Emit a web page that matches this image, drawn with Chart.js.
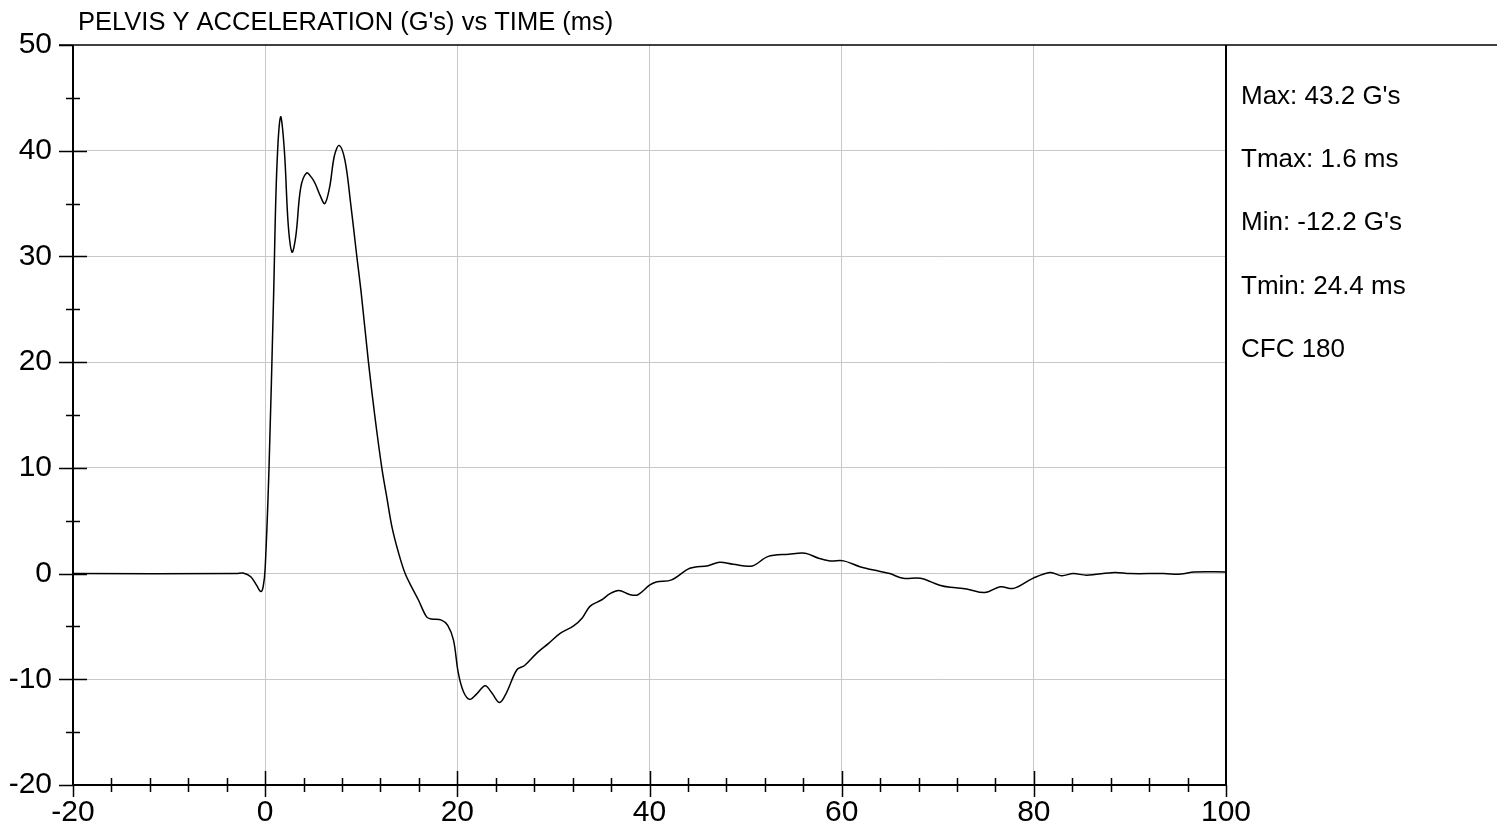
<!DOCTYPE html>
<html>
<head>
<meta charset="utf-8">
<script src="https://cdn.jsdelivr.net/npm/chart.js@4"></script>
<style>
  body { margin: 0; background: #fff; }
  #wrap { width: 1497px; height: 833px; }
</style>
</head>
<body>
<div id="wrap"><canvas id="PelvisY" width="1497" height="833"></canvas></div>
<script>
// time (ms) and pelvis Y acceleration (G's)
const timeMs = [-20, -3, -2.3, -1.5, -0.9, -0.45, -0.2, 0, 0.4, 0.87, 1.2, 1.6, 2.0, 2.4, 2.8, 3.2, 3.7, 4.3, 4.8, 5.2, 5.7, 6.2, 6.7, 7.2, 7.7, 8.3, 8.9, 9.5, 10.0, 10.75, 11.4, 12.14, 12.7, 13.2, 13.9, 14.57, 15.4, 15.95, 16.8, 17.3, 18.35, 19.0, 19.6, 20.1, 20.65, 21.3, 22.0, 22.9, 23.6, 24.4, 25.1, 26.2, 27.0, 28.3, 29.5, 30.7, 32.1, 33.0, 33.8, 35.0, 35.9, 36.8, 38.0, 38.8, 40.0, 40.7, 42.3, 44.2, 46.1, 47.3, 48.7, 50.7, 52.3, 54.5, 56.2, 57.6, 58.8, 60.2, 61.9, 64.0, 65.0, 66.4, 68.2, 70.2, 71.3, 73.0, 74.9, 76.5, 77.9, 79.9, 81.7, 82.9, 84.1, 85.5, 88.4, 90, 93.5, 95.3, 96.7, 100];
const accelG = [0, 0, 0.05, -0.3, -1.1, -1.7, -1.2, 0.5, 10, 26, 38, 43.2, 40, 33, 30.4, 32, 36.5, 37.9, 37.5, 36.9, 35.8, 35.0, 36.5, 39.5, 40.5, 39.1, 35, 30.3, 26.5, 20, 15, 10, 7, 4.4, 1.9, 0, -1.55, -2.5, -4.1, -4.3, -4.4, -4.9, -6.3, -9.4, -11.2, -11.9, -11.4, -10.6, -11.3, -12.2, -11.3, -9.1, -8.7, -7.5, -6.6, -5.65, -4.95, -4.2, -3.1, -2.5, -1.9, -1.6, -2.0, -2.0, -1.1, -0.8, -0.6, 0.5, 0.75, 1.07, 0.88, 0.72, 1.6, 1.83, 1.92, 1.45, 1.2, 1.2, 0.65, 0.2, 0, -0.45, -0.45, -1.1, -1.3, -1.45, -1.8, -1.25, -1.4, -0.45, 0.1, -0.2, 0, -0.15, 0.1, 0, 0, -0.05, 0.15, 0.15];

const xRange = [-20, 100];
const yRange = [-20, 50];
const chartTitle = "PELVIS Y ACCELERATION (G's) vs TIME (ms)";
const statLines = ["Max: 43.2 G's", "Tmax: 1.6 ms", "Min: -12.2 G's", "Tmin: 24.4 ms", "CFC 180"];

const FONT = "'Liberation Sans', Arial, sans-serif";

// axes, tick marks, frame and text panel
const frame = {
  id: 'frame',
  afterDraw(chart) {
    const ctx = chart.ctx;
    const a = chart.chartArea;
    const xs = chart.scales.x, ys = chart.scales.y;
    ctx.save();
    ctx.strokeStyle = '#000';

    ctx.lineWidth = 1.5;
    ctx.beginPath();
    ctx.moveTo(a.left - 14, a.top); ctx.lineTo(chart.width, a.top);
    ctx.stroke();

    ctx.lineWidth = 2;
    ctx.beginPath();
    ctx.moveTo(a.left, a.top); ctx.lineTo(a.left, a.bottom);
    ctx.moveTo(a.left, a.bottom); ctx.lineTo(a.right, a.bottom);
    ctx.moveTo(a.right, a.top); ctx.lineTo(a.right, a.bottom);
    ctx.stroke();

    ctx.lineWidth = 1.5;
    ctx.beginPath();
    for (let v = yRange[0]; v <= yRange[1]; v += 5) {
      const py = Math.round(ys.getPixelForValue(v)) + 0.5;
      if (v % 10 === 0) {
        ctx.moveTo(a.left - 14, py);
        ctx.lineTo(v === yRange[0] || v === yRange[1] ? a.left : a.left + 14, py);
      } else {
        ctx.moveTo(a.left - 7, py); ctx.lineTo(a.left + 7, py);
      }
    }
    for (let v = xRange[0]; v <= xRange[1]; v += 4) {
      const px = Math.round(xs.getPixelForValue(v)) + 0.5;
      if (v % 20 === 0) {
        ctx.moveTo(px, v === xRange[0] || v === xRange[1] ? a.bottom : a.bottom - 14);
        ctx.lineTo(px, a.bottom + 12);
      } else {
        ctx.moveTo(px, a.bottom - 7); ctx.lineTo(px, a.bottom + 7);
      }
    }
    ctx.stroke();

    ctx.fillStyle = '#000';
    ctx.textAlign = 'left';
    ctx.textBaseline = 'alphabetic';
    ctx.font = '25.5px ' + FONT;
    ctx.fillText(chartTitle, 78, 30);

    ctx.font = '26px ' + FONT;
    statLines.forEach((s, i) => ctx.fillText(s, a.right + 15, 104 + i * 63.2));
    ctx.restore();
  }
};

new Chart(document.getElementById('PelvisY'), {
  type: 'line',
  data: {
    datasets: [{
      data: timeMs.map((t, i) => ({ x: t, y: accelG[i] })),
      borderColor: '#000',
      borderWidth: 1.5,
      pointRadius: 0,
      tension: 0.35,
      fill: false
    }]
  },
  options: {
    responsive: false,
    animation: false,
    layout: { padding: { top: 45, right: 271, left: 0, bottom: 0 } },
    plugins: { legend: { display: false }, tooltip: { enabled: false } },
    scales: {
      x: {
        type: 'linear',
        min: xRange[0], max: xRange[1],
        afterFit: s => { s.height = 48; },
        ticks: { stepSize: 20, color: '#000', padding: 10, maxRotation: 0, font: { family: FONT, size: 30 } },
        grid: {
          drawTicks: false,
          color: c => (c.tick.value === xRange[0] || c.tick.value === xRange[1]) ? 'rgba(0,0,0,0)' : '#c8c8c8',
          lineWidth: 1
        },
        border: { display: false }
      },
      y: {
        min: yRange[0], max: yRange[1],
        afterFit: s => { s.width = 73; },
        ticks: { stepSize: 10, color: '#000', padding: 21, font: { family: FONT, size: 30 } },
        grid: {
          drawTicks: false,
          color: c => (c.tick.value === yRange[0] || c.tick.value === yRange[1]) ? 'rgba(0,0,0,0)' : '#c8c8c8',
          lineWidth: 1
        },
        border: { display: false }
      }
    }
  },
  plugins: [frame]
});
</script>
</body>
</html>
